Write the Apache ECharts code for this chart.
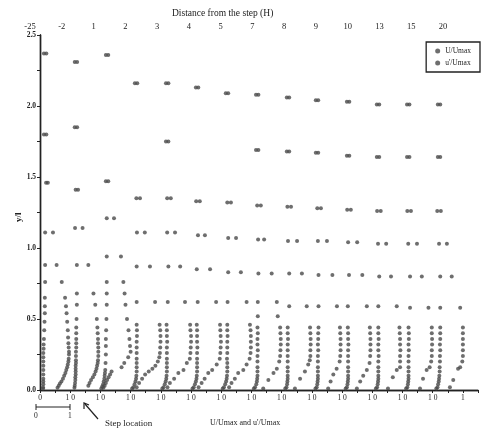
<!DOCTYPE html>
<html>
<head>
<meta charset="utf-8">
<script src="https://cdn.jsdelivr.net/npm/echarts@6/dist/echarts.min.js"></script>
<style>
  html, body { margin: 0; background: #fff; }
  #chart { width: 489px; height: 432px; }
</style>
</head>
<body>
<div id="chart"></div>
<script>
// stations, distance from the step (H)
const stationLabels = ['-25', '-2', '1', '2', '3', '4', '5', '7', '8', '9', '10', '13', '15', '20']

// U/Umax profiles, one per station: [U/Umax, y/l]
const meanProfiles = [
  [[0.21,2.37],[0.21,1.80],[0.26,1.46],[0.43,1.11],[0.55,0.88],[0.72,0.76],[0.83,0.65],[0.86,0.59],[0.88,0.54],[0.90,0.48],[0.92,0.42],[0.93,0.37],[0.94,0.33],[0.95,0.30],[0.96,0.27],[0.96,0.25],[0.95,0.22],[0.94,0.20],[0.92,0.18],[0.90,0.16],[0.87,0.14],[0.84,0.12],[0.80,0.10],[0.76,0.08],[0.71,0.06],[0.66,0.045],[0.62,0.03],[0.58,0.015]],
  [[0.23,2.31],[0.23,1.85],[0.26,1.41],[0.41,1.14],[0.60,0.88],[0.77,0.68],[0.83,0.60],[0.88,0.50],[0.90,0.44],[0.91,0.40],[0.92,0.36],[0.92,0.33],[0.93,0.30],[0.93,0.27],[0.93,0.24],[0.92,0.21],[0.91,0.19],[0.89,0.17],[0.87,0.15],[0.84,0.13],[0.80,0.11],[0.75,0.09],[0.69,0.07],[0.64,0.05],[0.60,0.03]],
  [[0.26,2.36],[0.26,1.47],[0.45,1.21],[0.68,0.94],[0.76,0.76],[0.80,0.68],[0.83,0.60],[0.88,0.50],[0.93,0.42],[0.96,0.36],[0.98,0.31],[1.00,0.27],[0.92,0.23],[0.79,0.19],[0.70,0.16],[0.37,0.13],[0.32,0.11],[0.27,0.09],[0.22,0.07],[0.18,0.05],[0.14,0.03],[0.10,0.015]],
  [[0.22,2.16],[0.31,1.35],[0.47,1.11],[0.64,0.87],[0.81,0.62],[0.96,0.46],[0.98,0.42],[0.99,0.38],[0.99,0.34],[0.98,0.30],[0.97,0.26],[0.95,0.23],[0.90,0.20],[0.82,0.17],[0.72,0.15],[0.60,0.13],[0.48,0.11],[0.38,0.08],[0.28,0.05],[0.20,0.02]],
  [[0.25,2.16],[0.25,1.75],[0.33,1.35],[0.47,1.11],[0.64,0.87],[0.80,0.62],[0.97,0.46],[0.98,0.42],[1.00,0.38],[1.00,0.34],[0.99,0.30],[0.98,0.26],[0.96,0.22],[0.86,0.19],[0.75,0.14],[0.58,0.12],[0.44,0.08],[0.30,0.05],[0.22,0.02]],
  [[0.24,2.13],[0.29,1.33],[0.46,1.09],[0.63,0.85],[0.83,0.62],[0.96,0.46],[0.97,0.42],[0.98,0.38],[0.99,0.34],[0.98,0.30],[0.97,0.26],[0.95,0.22],[0.85,0.18],[0.70,0.14],[0.57,0.12],[0.45,0.08],[0.35,0.05],[0.25,0.02]],
  [[0.23,2.09],[0.32,1.32],[0.49,1.07],[0.65,0.83],[0.84,0.62],[0.95,0.46],[0.97,0.42],[0.98,0.38],[0.98,0.34],[0.98,0.30],[0.97,0.26],[0.94,0.22],[0.84,0.18],[0.73,0.14],[0.56,0.12],[0.45,0.08],[0.34,0.05],[0.26,0.02]],
  [[0.23,2.08],[0.23,1.69],[0.31,1.30],[0.42,1.06],[0.67,0.82],[0.84,0.62],[0.87,0.52],[0.95,0.44],[0.96,0.40],[0.97,0.36],[0.97,0.32],[0.96,0.28],[0.95,0.24],[0.92,0.20],[0.84,0.15],[0.73,0.12],[0.56,0.07],[0.39,0.01]],
  [[0.25,2.06],[0.25,1.68],[0.31,1.29],[0.51,1.05],[0.67,0.82],[0.83,0.59],[0.94,0.44],[0.95,0.40],[0.96,0.36],[0.96,0.32],[0.95,0.28],[0.95,0.24],[0.93,0.21],[0.88,0.18],[0.77,0.13],[0.61,0.08],[0.44,0.01]],
  [[0.21,2.04],[0.21,1.67],[0.30,1.28],[0.50,1.05],[0.68,0.81],[0.83,0.59],[0.93,0.44],[0.94,0.40],[0.95,0.36],[0.95,0.32],[0.95,0.28],[0.94,0.24],[0.92,0.20],[0.82,0.15],[0.71,0.11],[0.62,0.06],[0.54,0.01]],
  [[0.24,2.03],[0.24,1.65],[0.29,1.27],[0.50,1.04],[0.67,0.81],[0.82,0.59],[0.92,0.44],[0.93,0.40],[0.94,0.36],[0.94,0.32],[0.94,0.28],[0.93,0.24],[0.91,0.19],[0.82,0.14],[0.70,0.10],[0.60,0.06],[0.49,0.01]],
  [[0.23,2.01],[0.23,1.64],[0.28,1.26],[0.46,1.03],[0.62,0.80],[0.81,0.59],[0.90,0.44],[0.91,0.40],[0.92,0.36],[0.92,0.32],[0.93,0.28],[0.92,0.24],[0.92,0.20],[0.92,0.16],[0.81,0.14],[0.68,0.09],[0.52,0.01]],
  [[0.23,2.01],[0.23,1.64],[0.28,1.26],[0.48,1.03],[0.64,0.80],[0.86,0.58],[0.97,0.44],[0.97,0.40],[0.98,0.36],[0.98,0.32],[0.97,0.28],[0.97,0.24],[0.95,0.20],[0.90,0.16],[0.80,0.14],[0.68,0.08],[0.58,0.01]],
  [[0.25,2.01],[0.25,1.64],[0.27,1.26],[0.47,1.03],[0.63,0.80],[0.91,0.58],[1.00,0.44],[1.00,0.40],[1.00,0.36],[1.00,0.32],[1.00,0.28],[1.00,0.24],[0.98,0.20],[0.91,0.16],[0.84,0.15],[0.68,0.07],[0.57,0.02]]
]

// u'/Umax profiles, one per station: [u'/Umax, y/l]
const rmsProfiles = [
  [[0.13,2.37],[0.13,1.80],[0.20,1.46],[0.17,1.11],[0.17,0.88],[0.17,0.76],[0.16,0.65],[0.16,0.59],[0.16,0.54],[0.15,0.48],[0.14,0.42],[0.13,0.36],[0.12,0.32],[0.12,0.29],[0.11,0.26],[0.11,0.23],[0.11,0.20],[0.11,0.17],[0.11,0.14],[0.11,0.11],[0.11,0.08],[0.11,0.06],[0.11,0.04],[0.10,0.02],[0.10,0.01]],
  [[0.15,2.31],[0.15,1.85],[0.18,1.41],[0.16,1.14],[0.22,0.88],[0.22,0.68],[0.22,0.60],[0.21,0.50],[0.20,0.44],[0.20,0.40],[0.20,0.36],[0.20,0.33],[0.20,0.30],[0.19,0.27],[0.19,0.24],[0.19,0.21],[0.19,0.19],[0.18,0.17],[0.18,0.15],[0.18,0.13],[0.18,0.11],[0.17,0.09],[0.17,0.07],[0.16,0.05],[0.15,0.03],[0.14,0.015]],
  [[0.18,2.36],[0.18,1.47],[0.21,1.21],[0.21,0.94],[0.21,0.76],[0.21,0.68],[0.21,0.60],[0.20,0.50],[0.19,0.42],[0.18,0.36],[0.18,0.31],[0.18,0.25],[0.17,0.19],[0.16,0.14],[0.15,0.12],[0.14,0.10],[0.13,0.08],[0.11,0.06],[0.09,0.04],[0.06,0.025],[0.03,0.01]],
  [[0.14,2.16],[0.19,1.35],[0.21,1.11],[0.20,0.87],[0.20,0.62],[0.20,0.46],[0.21,0.42],[0.21,0.38],[0.20,0.34],[0.20,0.30],[0.20,0.26],[0.20,0.22],[0.20,0.19],[0.20,0.16],[0.20,0.13],[0.19,0.10],[0.18,0.08],[0.16,0.06],[0.13,0.04],[0.09,0.02],[0.05,0.01]],
  [[0.17,2.16],[0.17,1.75],[0.21,1.35],[0.21,1.11],[0.25,0.87],[0.23,0.62],[0.19,0.46],[0.20,0.42],[0.20,0.38],[0.21,0.34],[0.20,0.30],[0.20,0.26],[0.20,0.22],[0.20,0.19],[0.20,0.16],[0.20,0.13],[0.19,0.10],[0.18,0.08],[0.16,0.06],[0.13,0.04],[0.09,0.02],[0.05,0.01]],
  [[0.16,2.13],[0.17,1.33],[0.23,1.09],[0.19,0.85],[0.22,0.62],[0.19,0.46],[0.20,0.42],[0.20,0.38],[0.20,0.34],[0.21,0.30],[0.20,0.26],[0.20,0.22],[0.20,0.19],[0.20,0.16],[0.20,0.13],[0.19,0.10],[0.18,0.08],[0.16,0.06],[0.13,0.04],[0.09,0.02],[0.05,0.01]],
  [[0.15,2.09],[0.20,1.32],[0.23,1.07],[0.23,0.83],[0.21,0.62],[0.20,0.46],[0.20,0.42],[0.21,0.38],[0.20,0.34],[0.20,0.30],[0.20,0.26],[0.19,0.22],[0.20,0.19],[0.20,0.16],[0.20,0.13],[0.19,0.10],[0.18,0.08],[0.16,0.06],[0.13,0.04],[0.09,0.02],[0.05,0.01]],
  [[0.15,2.08],[0.15,1.69],[0.19,1.30],[0.22,1.06],[0.23,0.82],[0.21,0.62],[0.21,0.52],[0.20,0.44],[0.21,0.40],[0.20,0.36],[0.20,0.32],[0.21,0.28],[0.20,0.24],[0.20,0.20],[0.20,0.16],[0.20,0.13],[0.20,0.10],[0.19,0.08],[0.18,0.06],[0.16,0.04],[0.12,0.02],[0.08,0.01]],
  [[0.17,2.06],[0.17,1.68],[0.19,1.29],[0.21,1.05],[0.25,0.82],[0.25,0.59],[0.20,0.44],[0.20,0.40],[0.21,0.36],[0.20,0.32],[0.20,0.28],[0.20,0.24],[0.20,0.20],[0.20,0.16],[0.20,0.13],[0.20,0.10],[0.20,0.08],[0.19,0.06],[0.18,0.04],[0.16,0.02],[0.12,0.01]],
  [[0.13,2.04],[0.13,1.67],[0.18,1.28],[0.20,1.05],[0.22,0.81],[0.22,0.59],[0.22,0.44],[0.21,0.40],[0.21,0.36],[0.20,0.32],[0.21,0.28],[0.20,0.24],[0.20,0.20],[0.20,0.16],[0.20,0.13],[0.20,0.10],[0.20,0.08],[0.19,0.06],[0.18,0.04],[0.16,0.02],[0.12,0.01]],
  [[0.16,2.03],[0.16,1.65],[0.17,1.27],[0.20,1.04],[0.23,0.81],[0.19,0.59],[0.19,0.44],[0.20,0.40],[0.20,0.36],[0.21,0.32],[0.20,0.28],[0.20,0.24],[0.20,0.20],[0.20,0.16],[0.20,0.13],[0.20,0.10],[0.20,0.08],[0.19,0.06],[0.18,0.04],[0.16,0.02],[0.12,0.01]],
  [[0.15,2.01],[0.15,1.64],[0.16,1.26],[0.19,1.03],[0.23,0.80],[0.20,0.59],[0.20,0.44],[0.20,0.40],[0.21,0.36],[0.20,0.32],[0.20,0.28],[0.21,0.24],[0.20,0.20],[0.20,0.16],[0.20,0.13],[0.20,0.10],[0.20,0.08],[0.19,0.06],[0.18,0.04],[0.16,0.02],[0.12,0.01]],
  [[0.15,2.01],[0.15,1.64],[0.16,1.26],[0.19,1.03],[0.25,0.80],[0.25,0.58],[0.20,0.44],[0.21,0.40],[0.21,0.36],[0.20,0.32],[0.21,0.28],[0.20,0.24],[0.20,0.20],[0.20,0.16],[0.20,0.13],[0.20,0.10],[0.20,0.08],[0.19,0.06],[0.18,0.04],[0.16,0.02],[0.12,0.01]],
  [[0.17,2.01],[0.17,1.64],[0.15,1.26],[0.21,1.03],[0.25,0.80],[0.25,0.58],[0.25,0.44],[0.25,0.40],[0.25,0.36],[0.24,0.32],[0.25,0.28],[0.24,0.24],[0.24,0.20],[0.23,0.16],[0.23,0.13],[0.22,0.10],[0.21,0.08],[0.20,0.06],[0.18,0.04],[0.16,0.02],[0.12,0.01]]
]

const FONT = 'Liberation Serif'
const INK = '#222'
const DOT = '#4a4a4a'

// each profile sits on its own station origin along the x axis
function place(profiles) {
  const out = []
  profiles.forEach((prof, k) => {
    prof.forEach(p => out.push([k + p[0], p[1]]))
  })
  return out
}

const chart = echarts.init(document.getElementById('chart'))

chart.setOption({
  animation: false,
  backgroundColor: '#fff',
  textStyle: { fontFamily: FONT, color: INK },
  grid: [
    { left: 40, right: 11, top: 35, bottom: 42 },
    { left: 30, top: 35, width: 448, height: 10 }
  ],
  legend: {
    orient: 'vertical',
    right: 9,
    top: 42,
    padding: [5, 9, 5, 9],
    itemGap: 4,
    itemWidth: 5,
    itemHeight: 5,
    borderColor: '#222',
    borderWidth: 1.3,
    textStyle: { fontFamily: FONT, fontSize: 7.5, color: INK },
    data: [
      { name: 'U/Umax', icon: 'circle' },
      { name: "u'/Umax", icon: 'circle' }
    ]
  },
  xAxis: [
    {
      gridIndex: 0,
      type: 'value',
      position: 'bottom',
      min: 0,
      max: 14.5,
      interval: 1,
      axisLine: { lineStyle: { color: INK, width: 1.4 } },
      axisTick: { length: 3, lineStyle: { color: INK } },
      minorTick: { show: true, splitNumber: 2, length: 2, lineStyle: { color: INK } },
      splitLine: { show: false },
      axisLabel: {
        fontFamily: FONT,
        fontSize: 7.5,
        color: INK,
        margin: 4,
        showMaxLabel: false,
        formatter: v => (v === 0 ? '0' : v === 14 ? '1' : '1 0')
      }
    },
    {
      gridIndex: 0,
      type: 'value',
      position: 'top',
      min: 0,
      max: 14.5,
      interval: 0.5,
      axisLine: { lineStyle: { color: INK, width: 1.4 } },
      axisTick: { inside: true, length: 3, lineStyle: { color: INK } },
      splitLine: { show: false },
      axisLabel: { show: false }
    },
    {
      gridIndex: 1,
      type: 'value',
      position: 'top',
      min: 0,
      max: 14.1,
      interval: 1,
      axisLine: { show: false },
      axisTick: { show: false },
      splitLine: { show: false },
      axisLabel: {
        fontFamily: FONT,
        fontSize: 8.5,
        color: INK,
        margin: 4,
        formatter: v => stationLabels[v] || ''
      }
    }
  ],
  yAxis: [
    {
      gridIndex: 0,
      type: 'value',
      min: 0,
      max: 2.5,
      interval: 0.5,
      axisLine: { show: true, lineStyle: { color: INK, width: 1.4 } },
      axisTick: { show: true, length: 3, lineStyle: { color: INK } },
      minorTick: { show: true, splitNumber: 2, length: 2, lineStyle: { color: INK } },
      splitLine: { show: false },
      axisLabel: {
        fontFamily: FONT,
        fontSize: 7.5,
        fontWeight: 'bold',
        color: INK,
        margin: 4,
        formatter: v => v.toFixed(1)
      }
    },
    {
      gridIndex: 0,
      type: 'value',
      position: 'right',
      min: 0,
      max: 2.5,
      interval: 0.25,
      axisLine: { show: true, lineStyle: { color: INK, width: 1.4 } },
      axisTick: { show: true, inside: true, length: 3, lineStyle: { color: INK } },
      splitLine: { show: false },
      axisLabel: { show: false }
    },
    { gridIndex: 1, type: 'value', show: false, min: 0, max: 1 }
  ],
  graphic: [
    {
      type: 'text',
      left: 172,
      top: 8,
      style: { text: 'Distance from the step (H)', font: '9.5px "Liberation Serif"', fill: INK }
    },
    {
      type: 'text',
      x: 14,
      y: 222,
      rotation: Math.PI / 2,
      style: { text: 'y/l', font: 'bold 9px "Liberation Serif"', fill: INK }
    },
    // scale bar under the first profile
    { type: 'line', shape: { x1: 36, y1: 407, x2: 70, y2: 407 }, style: { stroke: INK, lineWidth: 1 } },
    { type: 'line', shape: { x1: 36, y1: 404, x2: 36, y2: 410 }, style: { stroke: INK, lineWidth: 1 } },
    { type: 'line', shape: { x1: 70, y1: 404, x2: 70, y2: 410 }, style: { stroke: INK, lineWidth: 1 } },
    { type: 'text', x: 34, y: 412, style: { text: '0', font: '7.5px "Liberation Serif"', fill: INK } },
    { type: 'text', x: 68, y: 412, style: { text: '1', font: '7.5px "Liberation Serif"', fill: INK } },
    // step location arrow
    { type: 'line', shape: { x1: 98, y1: 419, x2: 85, y2: 404 }, style: { stroke: INK, lineWidth: 1.2 } },
    { type: 'polyline', shape: { points: [[84, 409], [84, 403], [89, 405]] }, style: { stroke: INK, lineWidth: 1.2, fill: null } },
    { type: 'text', x: 105, y: 419, style: { text: 'Step location', font: '9px "Liberation Serif"', fill: INK } },
    { type: 'text', x: 210, y: 419, style: { text: "U/Umax and u'/Umax", font: '8px "Liberation Serif"', fill: INK } }
  ],
  series: [
    {
      name: 'U/Umax',
      type: 'scatter',
      xAxisIndex: 0,
      yAxisIndex: 0,
      symbol: 'circle',
      symbolSize: 4,
      itemStyle: { color: DOT },
      data: place(meanProfiles)
    },
    {
      name: "u'/Umax",
      type: 'scatter',
      xAxisIndex: 0,
      yAxisIndex: 0,
      symbol: 'circle',
      symbolSize: 4,
      itemStyle: { color: DOT },
      data: place(rmsProfiles)
    }
  ]
})
</script>
</body>
</html>
